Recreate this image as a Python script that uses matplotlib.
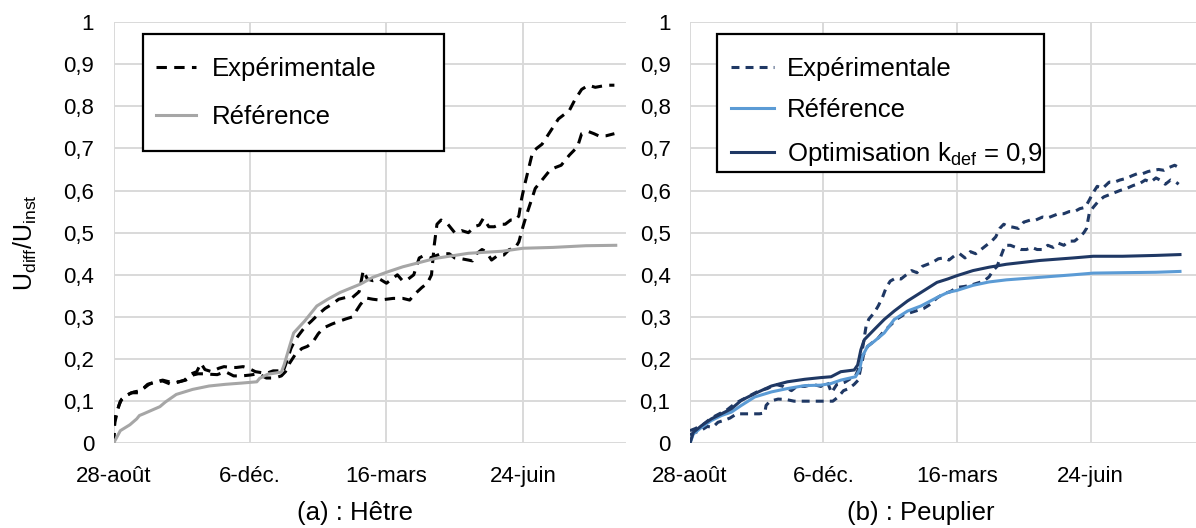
import matplotlib
matplotlib.use('Agg')
import matplotlib.pyplot as plt
import matplotlib.ticker as mtick
from matplotlib.patches import Rectangle

plt.rcParams['font.family'] = ['Liberation Sans', 'DejaVu Sans']

# ---- Axe des temps (jours depuis le 28 août)
ticks_jours = [0, 100, 200, 300]
ticks_dates = ['28-août', '6-déc.', '16-mars', '24-juin']

# ---- (a) Hêtre
hetre_ref_j = [0, 5, 12, 17, 19, 22, 34, 38, 46, 58, 70, 82, 94, 105, 107, 113,
               123, 125, 129, 132, 140, 149, 157, 166, 181, 190, 200, 212, 236,
               260, 285, 300, 322, 346, 368]
hetre_ref = [0, 0.03, 0.044, 0.058, 0.066, 0.07, 0.087, 0.098, 0.116, 0.128,
             0.136, 0.14, 0.143, 0.146, 0.154, 0.164, 0.169, 0.186, 0.23, 0.262,
             0.29, 0.326, 0.342, 0.358, 0.378, 0.394, 0.406, 0.419, 0.439,
             0.451, 0.456, 0.463, 0.465, 0.469, 0.47]

hetre_exp1_j = [0, 1, 5, 8, 13, 18, 22, 26, 30, 36, 42, 48, 53, 58, 62, 66, 70,
                76, 82, 88, 94, 100, 106, 112, 118, 123, 126, 129, 133, 138,
                142, 146, 150, 154, 160, 164, 170, 175, 178, 181, 185, 190, 195,
                200, 205, 212, 217, 221, 226, 230, 233, 235, 237, 240, 245, 250,
                255, 260, 265, 268, 271, 275, 279, 283, 287, 291, 295, 297, 299,
                301, 304, 307, 310, 314, 320, 326, 334, 338, 343, 348, 353, 358,
                362, 367]
hetre_exp1 = [0, 0.06, 0.10, 0.11, 0.12, 0.12, 0.13, 0.14, 0.145, 0.15, 0.145,
              0.146, 0.15, 0.162, 0.165, 0.165, 0.164, 0.163, 0.17, 0.16, 0.16,
              0.162, 0.165, 0.155, 0.155, 0.16, 0.17, 0.19, 0.21, 0.225, 0.23,
              0.24, 0.26, 0.274, 0.283, 0.288, 0.295, 0.30, 0.315, 0.33, 0.345,
              0.342, 0.34, 0.342, 0.344, 0.344, 0.34, 0.355, 0.37, 0.38, 0.40,
              0.47, 0.52, 0.53, 0.52, 0.50, 0.505, 0.50, 0.515, 0.518, 0.534,
              0.514, 0.514, 0.52, 0.52, 0.53, 0.53, 0.54, 0.58, 0.61, 0.65,
              0.69, 0.70, 0.71, 0.74, 0.77, 0.79, 0.815, 0.84, 0.85, 0.845,
              0.848, 0.85, 0.85]

hetre_exp2_j = [0, 1, 4, 6, 10, 15, 20, 25, 30, 36, 42, 47, 52, 57, 61, 64, 67,
                72, 77, 81, 86, 90, 95, 99, 104, 108, 112, 117, 121, 124, 127,
                130, 133, 136, 140, 145, 150, 155, 160, 165, 170, 175, 180, 183,
                186, 190, 195, 200, 204, 208, 212, 216, 220, 224, 227, 232, 236,
                240, 246, 250, 255, 260, 263, 266, 270, 273, 277, 282, 286, 290,
                294, 297, 300, 303, 307, 309, 314, 320, 324, 328, 334, 340, 343,
                348, 352, 356, 361, 367]
hetre_exp2 = [0, 0.05, 0.09, 0.105, 0.115, 0.122, 0.125, 0.14, 0.145, 0.148,
              0.14, 0.145, 0.15, 0.165, 0.17, 0.19, 0.175, 0.17, 0.178, 0.182,
              0.18, 0.18, 0.182, 0.178, 0.17, 0.168, 0.166, 0.172, 0.172,
              0.168, 0.195, 0.225, 0.245, 0.258, 0.275, 0.29, 0.306, 0.32,
              0.33, 0.342, 0.346, 0.346, 0.36, 0.41, 0.39, 0.386, 0.39, 0.38,
              0.39, 0.40, 0.385, 0.39, 0.40, 0.44, 0.445, 0.44, 0.445, 0.45,
              0.45, 0.44, 0.438, 0.435, 0.433, 0.45, 0.46, 0.455, 0.435, 0.447,
              0.447, 0.46, 0.462, 0.478, 0.514, 0.546, 0.585, 0.605, 0.625,
              0.649, 0.655, 0.66, 0.684, 0.704, 0.735, 0.74, 0.735, 0.729,
              0.73, 0.735]

# ---- (b) Peuplier
peup_ref_j = [0, 2.5, 8.7, 16, 23.6, 31, 38.5, 48.5, 61, 73, 86, 98, 105.7, 113,
              124, 127, 129, 133, 138, 145.5, 153, 163, 173, 185, 193, 200, 212,
              224, 237, 262, 287, 302, 324, 349, 367]
peup_ref = [0, 0.022, 0.038, 0.054, 0.066, 0.074, 0.09, 0.11, 0.122, 0.13,
            0.137, 0.138, 0.142, 0.15, 0.158, 0.174, 0.206, 0.23, 0.242, 0.262,
            0.294, 0.314, 0.326, 0.346, 0.358, 0.363, 0.375, 0.383, 0.388,
            0.394, 0.40, 0.404, 0.405, 0.406, 0.408]

peup_opt_j = [0, 2.5, 8.7, 16, 23.6, 31, 38.5, 48.5, 61, 73, 86, 98, 105.7, 113,
              123, 125.6, 128, 130.6, 138, 145.5, 153, 163, 173, 185, 193, 200,
              212, 224, 237, 262, 287, 302, 324, 349, 367]
peup_opt = [0, 0.026, 0.042, 0.058, 0.07, 0.082, 0.102, 0.118, 0.136, 0.146,
            0.152, 0.156, 0.158, 0.17, 0.174, 0.186, 0.222, 0.246, 0.27, 0.294,
            0.314, 0.338, 0.358, 0.382, 0.39, 0.398, 0.41, 0.418, 0.425, 0.434,
            0.44, 0.444, 0.444, 0.446, 0.448]

peup_exp1_j = [0, 4, 10, 16, 22, 28, 34, 40, 46, 52, 58, 64, 70, 76, 80, 86, 92,
               98, 103, 106, 110, 116, 121, 124, 126, 128, 130, 132, 134, 138,
               141, 144, 147, 150, 154, 158, 162, 166, 170, 174, 178, 182, 186,
               190, 194, 198, 202, 206, 210, 214, 218, 222, 226, 229, 232, 235,
               238, 242, 246, 250, 255, 259, 264, 268, 272, 276, 280, 284, 288,
               292, 296, 299, 302, 305, 309, 314, 318, 322, 327, 331, 335, 339,
               343, 347, 351, 355, 359, 363, 366]
peup_exp1 = [0.03, 0.035, 0.045, 0.06, 0.07, 0.08, 0.095, 0.105, 0.115, 0.125,
             0.13, 0.14, 0.135, 0.125, 0.135, 0.135, 0.14, 0.135, 0.145, 0.12,
             0.14, 0.145, 0.155, 0.16, 0.175, 0.20, 0.24, 0.28, 0.295, 0.31,
             0.326, 0.345, 0.37, 0.385, 0.392, 0.39, 0.40, 0.41, 0.405, 0.42,
             0.425, 0.43, 0.438, 0.44, 0.435, 0.445, 0.45, 0.44, 0.455, 0.45,
             0.46, 0.47, 0.48, 0.49, 0.51, 0.52, 0.515, 0.513, 0.51, 0.525,
             0.53, 0.53, 0.537, 0.535, 0.54, 0.545, 0.545, 0.55, 0.55, 0.557,
             0.56, 0.577, 0.595, 0.61, 0.605, 0.62, 0.62, 0.625, 0.629, 0.635,
             0.64, 0.64, 0.645, 0.648, 0.65, 0.648, 0.655, 0.66, 0.655]

peup_exp2_j = [0, 3, 8, 13, 17, 21, 26, 30, 35, 40, 46, 52, 56, 57, 60, 66, 72,
               78, 84, 90, 96, 102, 107, 111, 115, 119, 123, 126, 128, 130, 133,
               137, 141, 145, 150, 155, 160, 165, 170, 175, 180, 185, 190, 195,
               200, 205, 210, 215, 220, 224, 227, 230, 233, 236, 240, 244, 248,
               252, 256, 260, 264, 268, 272, 276, 280, 284, 288, 292, 295, 297,
               299, 302, 306, 310, 314, 318, 322, 327, 332, 337, 341, 345, 349,
               352, 356, 360, 364, 366]
peup_exp2 = [0.02, 0.025, 0.03, 0.04, 0.038, 0.05, 0.055, 0.06, 0.07, 0.07,
             0.07, 0.07, 0.072, 0.09, 0.10, 0.105, 0.104, 0.10, 0.10, 0.10,
             0.10, 0.10, 0.10, 0.11, 0.125, 0.13, 0.14, 0.15, 0.18, 0.21, 0.23,
             0.24, 0.25, 0.265, 0.28, 0.295, 0.305, 0.31, 0.315, 0.32, 0.33,
             0.345, 0.355, 0.36, 0.37, 0.372, 0.375, 0.38, 0.385, 0.395, 0.41,
             0.42, 0.445, 0.47, 0.47, 0.465, 0.46, 0.46, 0.465, 0.46, 0.46,
             0.47, 0.465, 0.475, 0.47, 0.48, 0.48, 0.49, 0.50, 0.51, 0.545,
             0.56, 0.575, 0.585, 0.59, 0.595, 0.60, 0.605, 0.612, 0.617, 0.625,
             0.62, 0.63, 0.625, 0.615, 0.625, 0.62, 0.615]

GRID = '#d9d9d9'
NAVY = '#1f3864'


def style_axe(ax, xmax):
    ax.set_xlim(0, xmax)
    ax.set_ylim(0, 1)
    ax.set_xticks(ticks_jours)
    ax.set_xticklabels(ticks_dates)
    ax.set_yticks([i / 10 for i in range(11)])
    ax.yaxis.set_major_formatter(mtick.FuncFormatter(
        lambda v, p: '{:g}'.format(round(v, 1)).replace('.', ',')))
    ax.grid(True, color=GRID, linewidth=1.4)
    ax.set_axisbelow(True)
    for s in ax.spines.values():
        s.set_visible(False)
    ax.tick_params(length=0, labelsize=16)
    ax.tick_params(axis='y', pad=14)
    ax.tick_params(axis='x', pad=16)


def cadre_legende(ax, box):
    # cadre noir de la légende, style Excel
    ax.add_patch(Rectangle(box[:2], box[2], box[3], transform=ax.transAxes,
                           facecolor='white', edgecolor='black', lw=1.6,
                           zorder=4))


fig = plt.figure(figsize=(11.96, 5.28), dpi=100)

# ---- (a) Hêtre
ax1 = fig.add_axes([0.0949, 0.1604, 0.4285, 0.7979])
ax1.plot(hetre_exp1_j, hetre_exp1, color='black', lw=2.2,
         linestyle=(0, (3.4, 2.4)), label='Expérimentale')
ax1.plot(hetre_exp2_j, hetre_exp2, color='black', lw=2.2,
         linestyle=(0, (3.4, 2.4)))
ax1.plot(hetre_ref_j, hetre_ref, color='#a6a6a6', lw=2.2, label='Référence')
style_axe(ax1, 375.5)
cadre_legende(ax1, (0.0576, 0.6938, 0.5873, 0.2777))
leg1 = ax1.legend(loc='upper left', bbox_to_anchor=(0.0829, 0.917),
                  borderaxespad=0, borderpad=0, frameon=False, fontsize=18.5,
                  labelspacing=0.94, handlelength=1.56, handletextpad=0.62)
leg1.set_zorder(5)

# ---- (b) Peuplier
ax2 = fig.add_axes([0.5769, 0.1604, 0.4231, 0.7979])
ax2.plot(peup_exp1_j, peup_exp1, color=NAVY, lw=2.2,
         linestyle=(0, (2.6, 2.0)), label='Expérimentale')
ax2.plot(peup_exp2_j, peup_exp2, color=NAVY, lw=2.2,
         linestyle=(0, (2.6, 2.0)))
ax2.plot(peup_ref_j, peup_ref, color='#5b9bd5', lw=2.2, label='Référence')
ax2.plot(peup_opt_j, peup_opt, color=NAVY, lw=2.2,
         label=r'Optimisation k$_{\mathregular{def}}$ = 0,9')
style_axe(ax2, 379)
cadre_legende(ax2, (0.0534, 0.644, 0.6462, 0.3276))
leg2 = ax2.legend(loc='upper left', bbox_to_anchor=(0.081, 0.917),
                  borderaxespad=0, borderpad=0, frameon=False, fontsize=18.5,
                  labelspacing=0.68, handlelength=1.67, handletextpad=0.5)
leg2.set_zorder(5)

# ---- Titres
fig.text(25 / 1196, 1 - 243 / 528, r'U$_{\mathregular{diff}}$/U$_{\mathregular{inst}}$',
         rotation=90, ha='center', va='center', fontsize=18)
fig.text(355 / 1196, 1 - 513 / 528, '(a) : Hêtre', ha='center', va='center',
         fontsize=18.5)
fig.text(921 / 1196, 1 - 513 / 528, '(b) : Peuplier', ha='center', va='center',
         fontsize=18.5)

plt.savefig('out.png', dpi=100)
